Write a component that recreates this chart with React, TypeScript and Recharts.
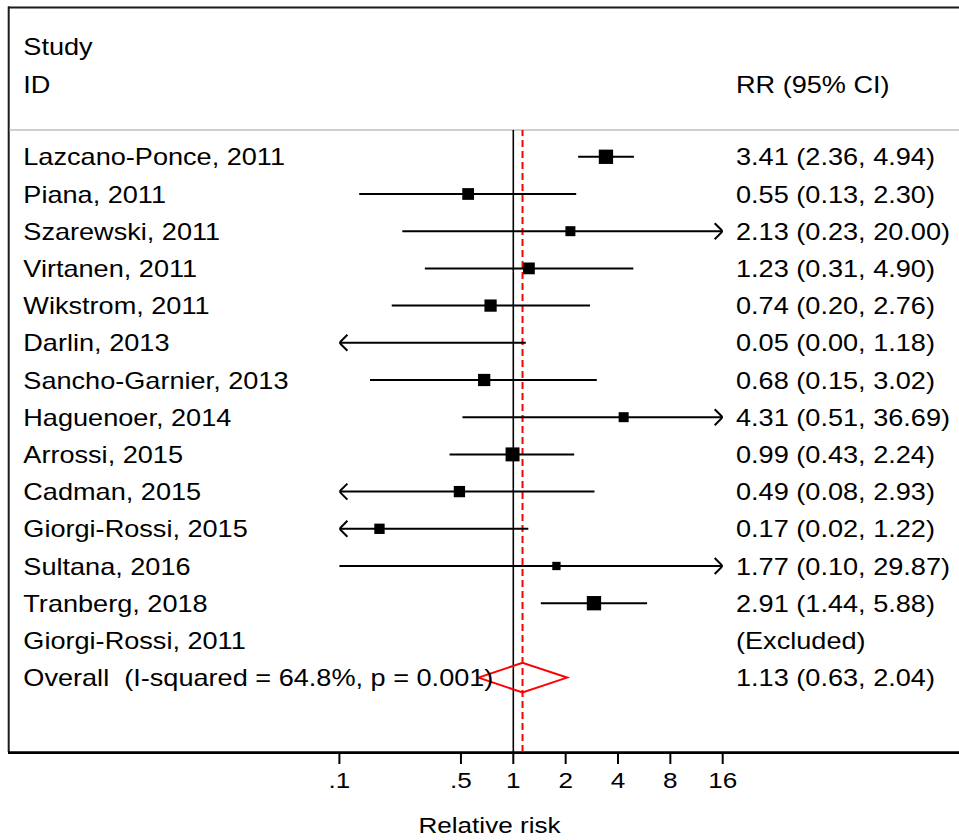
import React from "react";
import {
  ScatterChart,
  Scatter,
  XAxis,
  YAxis,
  ReferenceLine,
  Customized,
} from "recharts";

// study rows, top to bottom
const studies = [
  "Lazcano-Ponce, 2011",
  "Piana, 2011",
  "Szarewski, 2011",
  "Virtanen, 2011",
  "Wikstrom, 2011",
  "Darlin, 2013",
  "Sancho-Garnier, 2013",
  "Haguenoer, 2014",
  "Arrossi, 2015",
  "Cadman, 2015",
  "Giorgi-Rossi, 2015",
  "Sultana, 2016",
  "Tranberg, 2018",
  "Giorgi-Rossi, 2011",
];
const rr = [3.41, 0.55, 2.13, 1.23, 0.74, 0.05, 0.68, 4.31, 0.99, 0.49, 0.17, 1.77, 2.91, null];
const lower = [2.36, 0.13, 0.23, 0.31, 0.2, 0.0, 0.15, 0.51, 0.43, 0.08, 0.02, 0.1, 1.44, null];
const upper = [4.94, 2.3, 20.0, 4.9, 2.76, 1.18, 3.02, 36.69, 2.24, 2.93, 1.22, 29.87, 5.88, null];
// approximate study weights (%)
const weights = [11.9, 8.0, 5.8, 8.0, 8.7, 2.2, 8.7, 5.8, 11.3, 7.4, 6.2, 4.0, 11.9, 0];

const overallLabel = "Overall  (I-squared = 64.8%, p = 0.001)";
const overall = { rr: 1.13, lower: 0.63, upper: 2.04 };

const xTicks = [0.1, 0.5, 1, 2, 4, 8, 16];
const X_MIN = 0.1;
const X_MAX = 16;

const FONT = "'Liberation Sans', Arial, Helvetica, sans-serif";
const RED = "#ff0000";
const BOX_K = 4.15;
const DIAMOND_H = 0.4;

const nRows = studies.length + 1;
const rowIdx = Array.from({ length: nRows }, (_, i) => i);
const fmt2 = (v: number) => v.toFixed(2);

const rowLabels = [...studies, overallLabel];
const rrLabels = [
  ...studies.map((_, i) =>
    rr[i] == null ? "(Excluded)" : `${fmt2(rr[i]!)} (${fmt2(lower[i]!)}, ${fmt2(upper[i]!)})`
  ),
  `${fmt2(overall.rr)} (${fmt2(overall.lower)}, ${fmt2(overall.upper)})`,
];

const boxData = studies
  .map((_, i) => ({ x: rr[i], y: i, w: weights[i] }))
  .filter((d) => d.x != null && d.x >= X_MIN && d.x <= X_MAX);

const ciSegments = studies
  .map((_, i) => ({ i, lo: lower[i], hi: upper[i] }))
  .filter((d) => d.lo != null && d.hi != null)
  .map((d) => ({
    y: d.i,
    lo: Math.max(d.lo!, X_MIN),
    hi: Math.min(d.hi!, X_MAX),
  }));

const arrowData: { x: number; y: number; dir: number }[] = [];
studies.forEach((_, i) => {
  if (lower[i] != null && lower[i]! < X_MIN) arrowData.push({ x: X_MIN, y: i, dir: -1 });
  if (upper[i] != null && upper[i]! > X_MAX) arrowData.push({ x: X_MAX, y: i, dir: 1 });
});

const oRow = nRows - 1;
const diamond = [
  { x: overall.lower, y: oRow },
  { x: overall.rr, y: oRow - DIAMOND_H },
  { x: overall.upper, y: oRow },
  { x: overall.rr, y: oRow + DIAMOND_H },
  { x: overall.lower, y: oRow },
];

function SText({
  x,
  y,
  children,
  size = 24,
  sx = 1.13,
  anchor = "start",
}: {
  x: number;
  y: number;
  children: React.ReactNode;
  size?: number;
  sx?: number;
  anchor?: "start" | "middle" | "end";
}) {
  return (
    <text
      transform={`translate(${x},${y}) scale(${sx},1)`}
      fontSize={size}
      fontFamily={FONT}
      textAnchor={anchor}
      fill="#000"
      style={{ whiteSpace: "pre" }}
    >
      {children}
    </text>
  );
}

const LeftTick = (p: any) => (
  <SText x={23.3} y={p.y + 8.6}>
    {rowLabels[p.payload.value]}
  </SText>
);

const RightTick = (p: any) => (
  <SText x={736} y={p.y + 8.6}>
    {rrLabels[p.payload.value]}
  </SText>
);

const XTick = (p: any) => {
  const v = p.payload.value as number;
  const s = v < 1 ? String(v).replace(/^0/, "") : String(v);
  return (
    <SText x={p.x} y={p.y + 22} anchor="middle" size={22.5} sx={1.16}>
      {s}
    </SText>
  );
};

const BoxShape = (p: any) => {
  const s = BOX_K * Math.sqrt(p.payload.w);
  return <rect x={p.cx - s / 2} y={p.cy - s / 2} width={s} height={s} fill="#000" />;
};

const ArrowShape = (p: any) => {
  const d = p.payload.dir;
  return (
    <path
      d={`M${p.cx - d * 8},${p.cy - 8} L${p.cx},${p.cy} L${p.cx - d * 8},${p.cy + 8}`}
      fill="none"
      stroke="#000"
      strokeWidth={2}
    />
  );
};

const Frame = () => (
  <g>
    <line x1={8} y1={7.5} x2={959} y2={7.5} stroke="#1a1a1a" strokeWidth={2} />
    <line x1={8.7} y1={6.5} x2={8.7} y2={752} stroke="#1a1a1a" strokeWidth={2} />
    <line x1={9.7} y1={130} x2={959} y2={130} stroke="#cfcfcf" strokeWidth={2} />
    <line x1={8} y1={752.6} x2={959} y2={752.6} stroke="#000" strokeWidth={2.6} />
    <SText x={23.3} y={54.5}>Study</SText>
    <SText x={23.3} y={92.5}>ID</SText>
    <SText x={736} y={93}>RR (95% CI)</SText>
    <SText x={489.5} y={833} anchor="middle" size={22.5} sx={1.16}>
      Relative risk
    </SText>
  </g>
);

export default function App() {
  return (
    <div style={{ position: "absolute", left: 0, top: 0, background: "#fff" }}>
      <ScatterChart
        width={959}
        height={840}
        margin={{ top: 130, right: 36.3, bottom: 28, left: 39.4 }}
      >
        <XAxis
          dataKey="x"
          type="number"
          scale="log"
          domain={[X_MIN, X_MAX]}
          allowDataOverflow
          ticks={xTicks}
          interval={0}
          tick={<XTick />}
          tickSize={12}
          tickLine={{ stroke: "#000", strokeWidth: 2 }}
          axisLine={false}
          height={60}
        />
        <YAxis
          dataKey="y"
          type="number"
          domain={[-0.72, 16]}
          allowDataOverflow
          reversed
          ticks={rowIdx}
          interval={0}
          tick={<LeftTick />}
          tickLine={false}
          axisLine={false}
          width={300}
        />
        <YAxis
          yAxisId="r"
          orientation="right"
          dataKey="y"
          type="number"
          domain={[-0.72, 16]}
          allowDataOverflow
          reversed
          ticks={rowIdx}
          interval={0}
          tick={<RightTick />}
          tickLine={false}
          axisLine={false}
          width={200}
        />
        <Customized component={Frame} />
        <ReferenceLine x={1} stroke="#000" strokeWidth={1.6} />
        <ReferenceLine x={overall.rr} stroke={RED} strokeWidth={2} strokeDasharray="7 4" />
        {ciSegments.map((s) => (
          <ReferenceLine
            key={s.y}
            segment={[
              { x: s.lo, y: s.y },
              { x: s.hi, y: s.y },
            ]}
            stroke="#000"
            strokeWidth={2}
          />
        ))}
        <Scatter data={boxData} shape={BoxShape} isAnimationActive={false} />
        <Scatter data={arrowData} shape={ArrowShape} isAnimationActive={false} />
        <Scatter
          data={diamond}
          line={{ stroke: RED, strokeWidth: 2 }}
          shape={() => <g />}
          isAnimationActive={false}
        />
      </ScatterChart>
    </div>
  );
}
